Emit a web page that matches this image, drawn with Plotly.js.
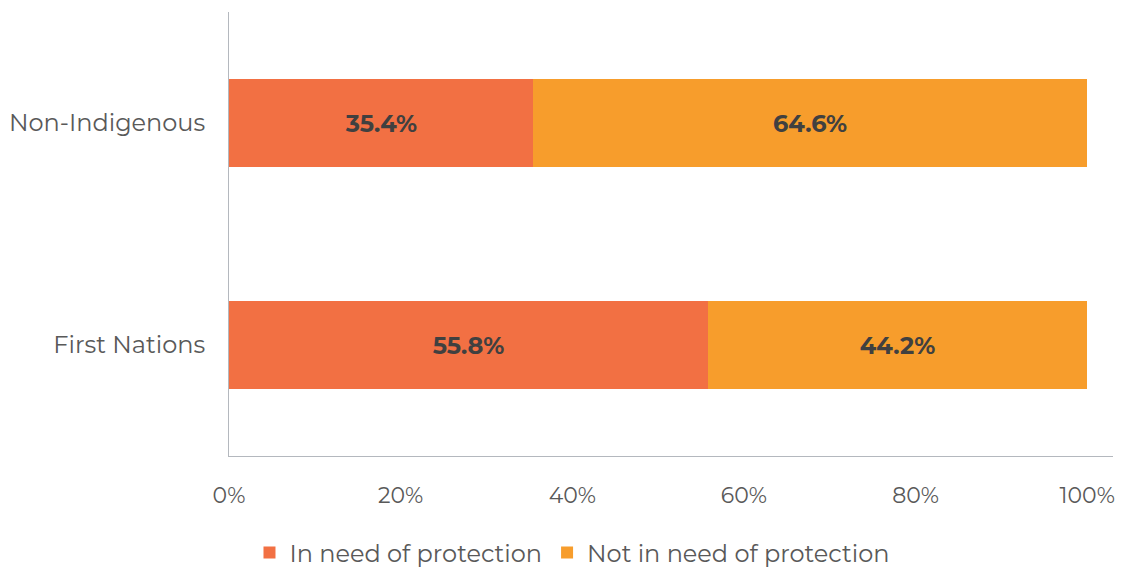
<!DOCTYPE html>
<html>
<head>
<meta charset="utf-8">
<script src="https://cdn.plot.ly/plotly-3.0.1.min.js"></script>
<style>html,body{margin:0;padding:0;background:#fff;}#chart{width:1121px;height:567px;}</style>
</head>
<body>
<div id="chart"></div>
<script>
const categories = ["First Nations", "Non-Indigenous"];
const seriesNames = ["In need of protection", "Not in need of protection"];
const inNeed = [55.8, 35.4];
const notInNeed = [44.2, 64.6];
const xTickVals = [0, 20, 40, 60, 80, 100];
const xTickText = ["0%", "20%", "40%", "60%", "80%", "100%"];

const colors = ["#F27043", "#F79D2C"];
const labelFont = {family: "Montserrat, 'Open Sans', sans-serif", size: 24, color: "#404040", weight: 700};

function mk(vals, name, color) {
  return {
    type: "bar", orientation: "h", y: categories, x: vals, name: name,
    marker: {color: color, line: {width: 0}},
    text: vals.map(v => v.toFixed(1) + "%"),
    textposition: "inside", insidetextanchor: "middle",
    textfont: labelFont, hoverinfo: "skip", width: 0.4
  };
}

const data = [mk(inNeed, seriesNames[0], colors[0]), mk(notInNeed, seriesNames[1], colors[1])];

const layout = {
  width: 1121, height: 567,
  margin: {l: 229, r: 8, t: 12, b: 111, autoexpand: false},
  barmode: "stack",
  paper_bgcolor: "#fff", plot_bgcolor: "#fff",
  font: {family: "Montserrat, 'Open Sans', sans-serif", color: "#595959", size: 22},
  xaxis: {
    range: [0, 103], tickvals: xTickVals, ticktext: xTickText,
    showgrid: false, zeroline: false, showline: true, linecolor: "#B4B8BE", linewidth: 1,
    ticks: "", ticklabelstandoff: 20, tickfont: {size: 22, color: "#595959"}, fixedrange: true
  },
  yaxis: {
    range: [-0.5, 1.5], showgrid: false, zeroline: false, showline: true, linecolor: "#B4B8BE", linewidth: 1,
    ticks: "", ticklabelstandoff: 18, tickfont: {size: 24, color: "#595959"}, fixedrange: true
  },
  showlegend: true,
  legend: {orientation: "h", x: 0.388, xanchor: "center", y: -0.218, yanchor: "middle",
    font: {size: 24, color: "#595959"}, traceorder: "normal", itemwidth: 30},
  bargap: 0.6
};

Plotly.newPlot("chart", data, layout, {displayModeBar: false, staticPlot: true});
</script>
</body>
</html>
